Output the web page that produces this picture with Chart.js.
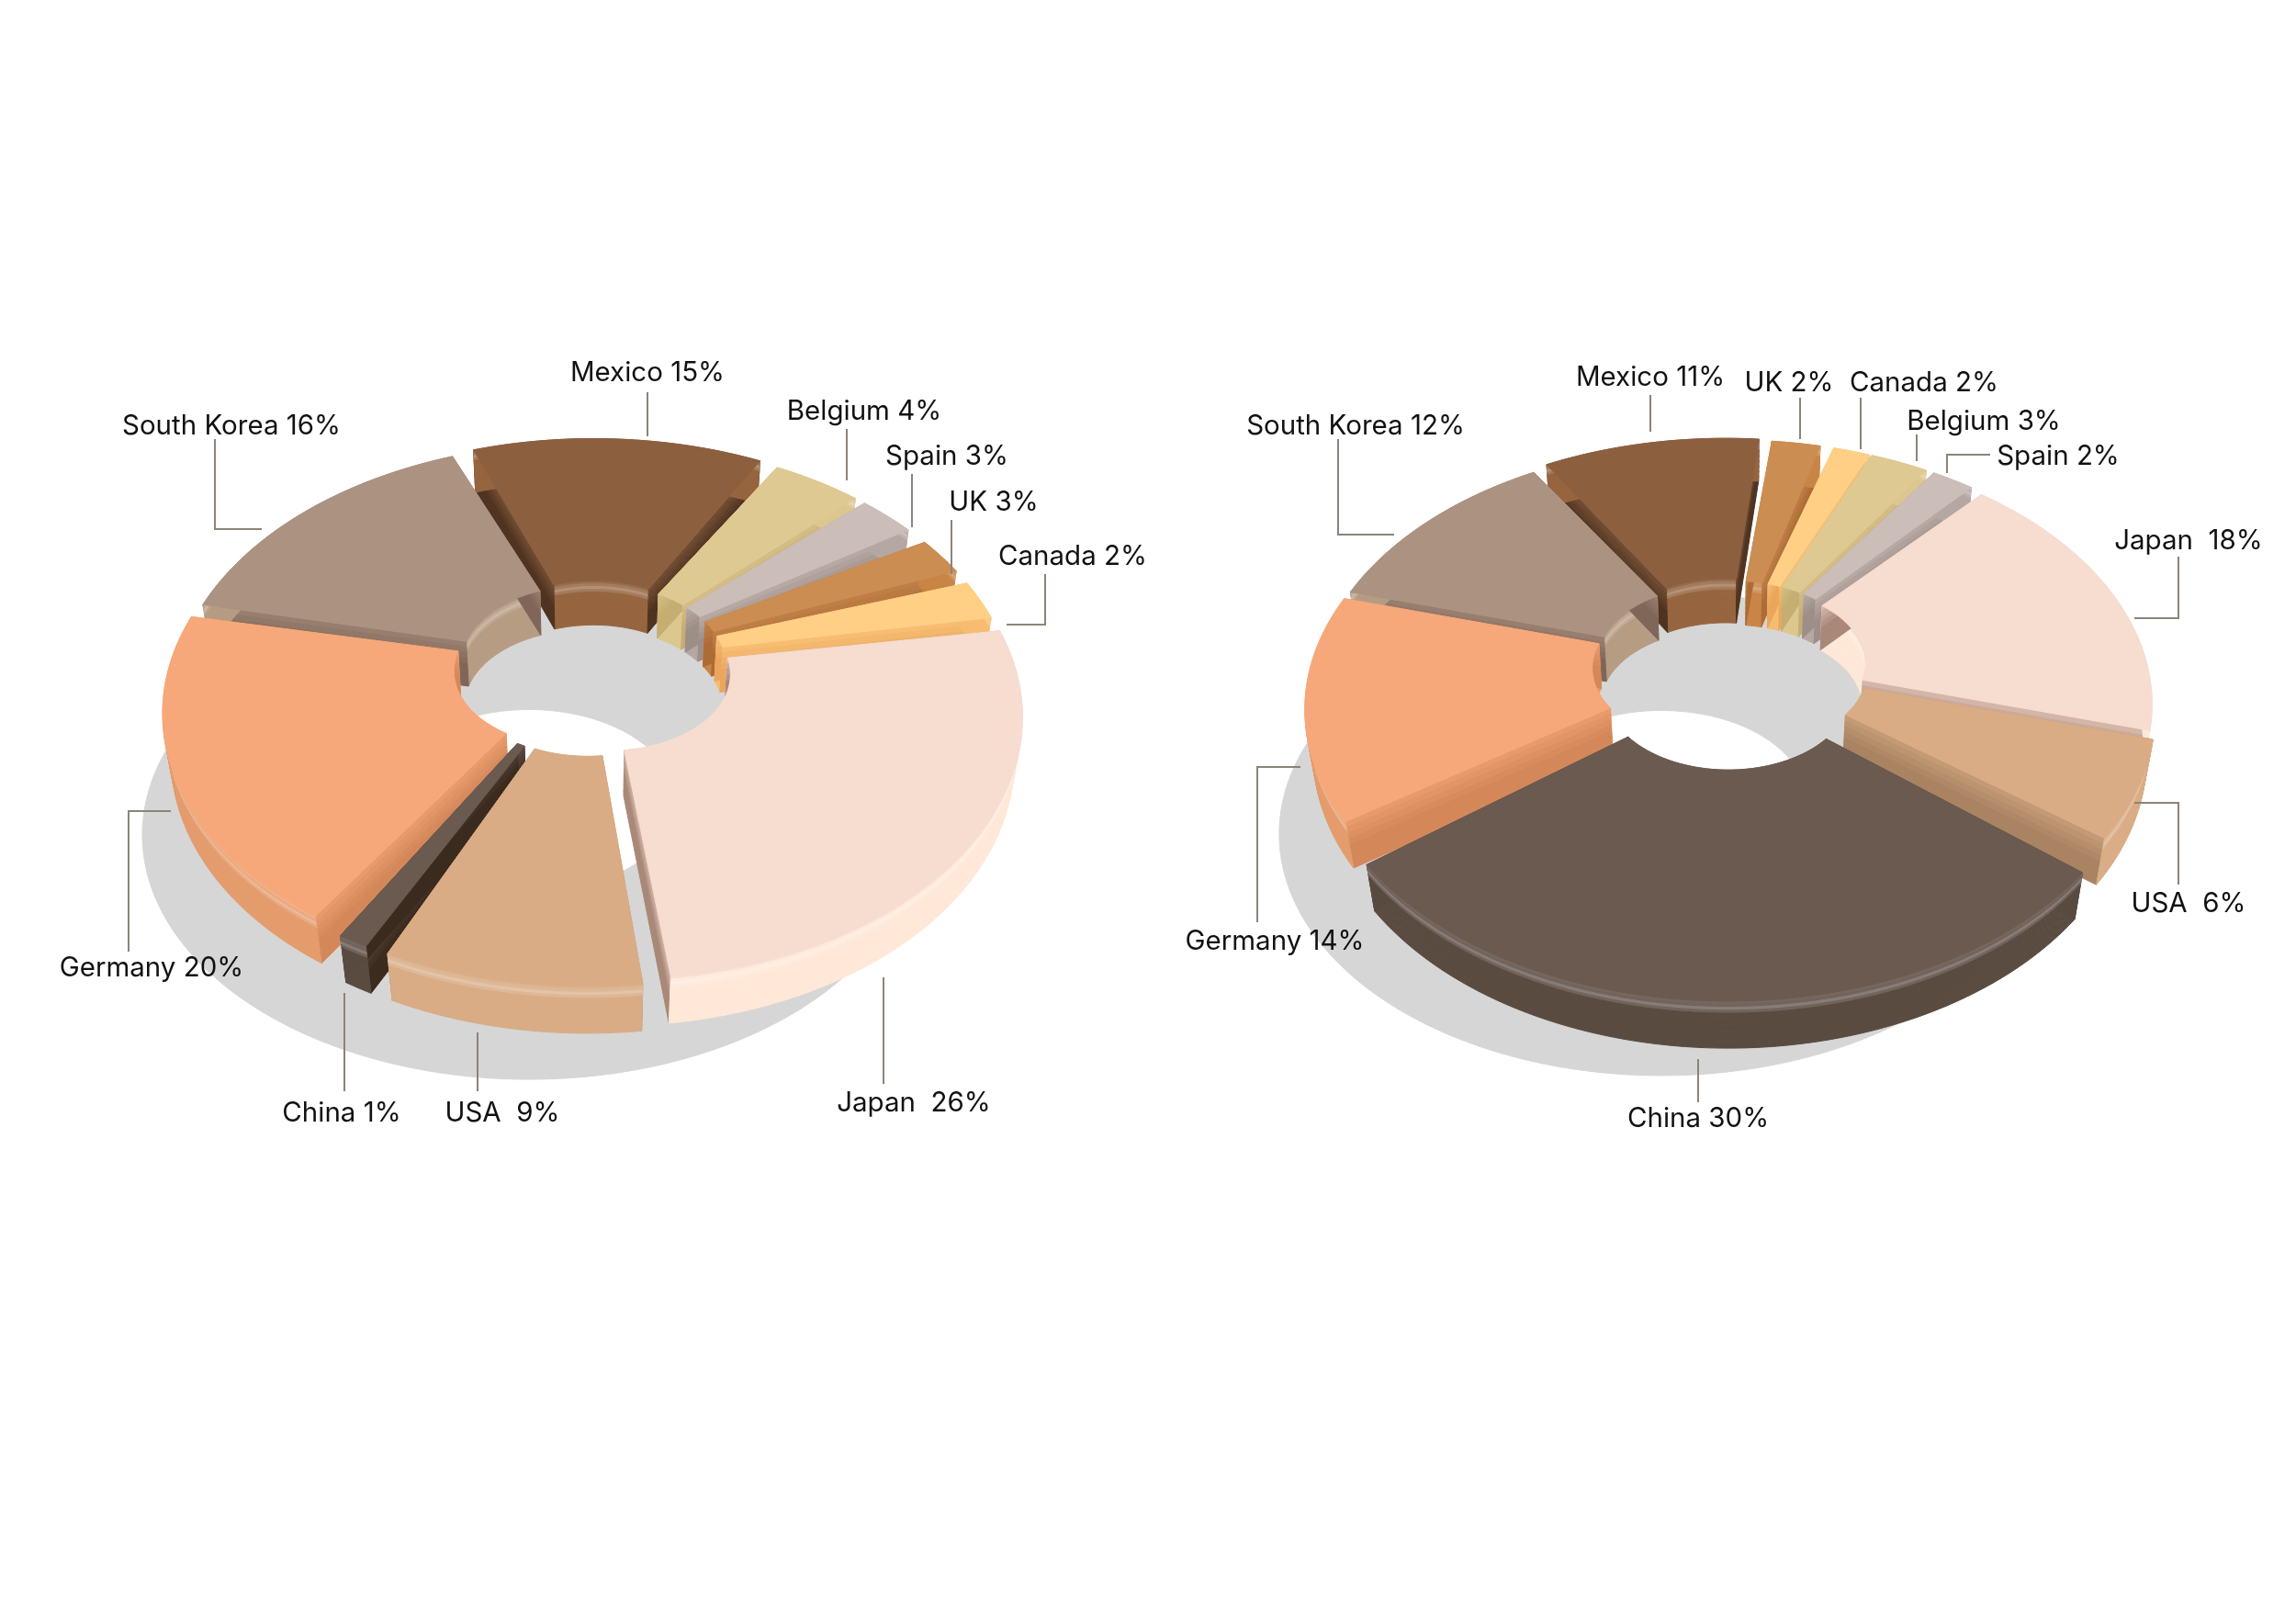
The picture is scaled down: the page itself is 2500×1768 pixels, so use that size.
<!DOCTYPE html>
<html>
<head>
<meta charset="utf-8">
<title>Two donut charts</title>
<script src="https://cdn.jsdelivr.net/npm/chart.js@4"></script>
<style>
    html, body { margin: 0; padding: 0; background: #fff; }
    canvas { position: absolute; left: 0; top: 0; }
</style>
</head>
<body>
<canvas id="left-chart" width="2500" height="1768"></canvas>
<canvas id="right-chart" width="2500" height="1768"></canvas>
<script>
const leftCategories = ['Japan', 'USA', 'China', 'Germany', 'South Korea', 'Mexico', 'Belgium', 'Spain', 'UK', 'Canada'];
const leftValues = [26, 9, 1, 20, 16, 15, 4, 3, 3, 2];
const leftLabels = ['Japan  26%', 'USA  9%', 'China 1%', 'Germany 20%', 'South Korea 16%', 'Mexico 15%', 'Belgium 4%', 'Spain 3%', 'UK 3%', 'Canada 2%'];

const rightCategories = ['Japan', 'USA', 'China', 'Germany', 'South Korea', 'Mexico', 'UK', 'Canada', 'Belgium', 'Spain'];
const rightValues = [18, 6, 30, 14, 12, 11, 2, 2, 3, 2];
const rightLabels = ['Japan  18%', 'USA  6%', 'China 30%', 'Germany 14%', 'South Korea 12%', 'Mexico 11%', 'UK 2%', 'Canada 2%', 'Belgium 3%', 'Spain 2%'];

// top face colour of every country
const colors = {
    'Japan': '#f7dcd0', 'USA': '#d9ac85', 'China': '#6b5a50', 'Germany': '#f6a87a', 'South Korea': '#ac9280',
    'Mexico': '#8c5f3f', 'Belgium': '#dfc992', 'Spain': '#cbbdb8', 'UK': '#cc8d52', 'Canada': '#ffcf85'
};
const wallColors = {
    'Japan': '#ffe8d8', 'USA': '#d9ac85', 'China': '#5a4b41', 'Germany': '#e59c6d', 'South Korea': '#b79c84',
    'Mexico': '#96653f', 'Belgium': '#dcc78e', 'Spain': '#b5a7a3', 'UK': '#c98546', 'Canada': '#f7bc70'
};
const cutColors = {
    'Japan': '#a98878', 'USA': '#a98362', 'China': '#3b2a1e', 'Germany': '#d4885a', 'South Korea': '#7f6658',
    'Mexico': '#4f3320', 'Belgium': '#c6ae72', 'Spain': '#9e8e88', 'UK': '#ad6c36', 'Canada': '#eba65c'
};

// how far each slice is pulled out of the ring, px
const leftExplode = [22, 22, 22, 18, 12, 18, 14, 14, 14, 14];
const rightExplode = [18, 20, 44, 18, 16, 24, 20, 20, 20, 20];

// gap at the start and end of each slice, degrees
const leftTrim = [[2, -0.5], [0, -2], [0, 0], [3, -1], [0, -3], [-1, -7], [-5, -4.7], [-3.2, -4.6], [-1, -3.5], [-0.5, 1]];
const rightTrim = [[1, 0], [0, 0], [2, -3], [0, 0], [0, -1], [0, -3], [-2, -1], [1, 0], [0, -1], [0, 0]];

// label centre and leader line for each slice, page px
const leftCallouts = [
    { x: 995, y: 1199, line: [[962, 1064], [962, 1180]] },
    { x: 547, y: 1210, line: [[520, 1124], [520, 1188]] },
    { x: 372, y: 1210, line: [[375, 1081], [375, 1188]] },
    { x: 165, y: 1052, line: [[140, 1036], [140, 883], [186, 883]] },
    { x: 252, y: 462, line: [[234, 478], [234, 576], [285, 576]] },
    { x: 705, y: 404, line: [[705, 427], [705, 475]] },
    { x: 941, y: 446, line: [[922, 467], [922, 523]] },
    { x: 1031, y: 495, line: [[993, 516], [993, 574]] },
    { x: 1082, y: 545, line: [[1036, 566], [1036, 625]] },
    { x: 1168, y: 604, line: [[1138, 625], [1138, 680], [1096, 680]] }
];
const rightCallouts = [
    { x: 2383, y: 587, line: [[2372, 606], [2372, 673], [2324, 673]] },
    { x: 2383, y: 982, line: [[2372, 963], [2372, 874], [2324, 874]] },
    { x: 1849, y: 1216, line: [[1849, 1153], [1849, 1200]] },
    { x: 1388, y: 1023, line: [[1369, 1004], [1369, 835], [1416, 835]] },
    { x: 1476, y: 462, line: [[1457, 478], [1457, 582], [1518, 582]] },
    { x: 1797, y: 409, line: [[1797, 430], [1797, 470]] },
    { x: 1948, y: 415, line: [[1960, 433], [1960, 478]] },
    { x: 2095, y: 415, line: [[2026, 433], [2026, 489]] },
    { x: 2160, y: 457, line: [[2087, 473], [2087, 502]] },
    { x: 2241, y: 495, line: [[2167, 495], [2120, 495], [2120, 515]] }
];

// mix two hex colours, t = 0 gives a, t = 1 gives b
function mix(a, b, t) {
    const pa = [1, 3, 5].map(i => parseInt(a.slice(i, i + 2), 16));
    const pb = [1, 3, 5].map(i => parseInt(b.slice(i, i + 2), 16));
    const c = pa.map((v, i) => Math.round(v + (pb[i] - v) * t));
    return `rgb(${c[0]},${c[1]},${c[2]})`;
}

// world point on the ring plane -> page px, z goes negative down the wall
function project(view, x, y, z) {
    const w = 1 - view.k * y - view.m * z;
    const s = 1 / w;
    return [view.cx + x * s, view.cy + view.q * y * s - z * s];
}

function fillPoly(ctx, pts, color) {
    ctx.beginPath();
    pts.forEach((p, i) => i ? ctx.lineTo(p[0], p[1]) : ctx.moveTo(p[0], p[1]));
    ctx.closePath();
    ctx.fillStyle = color;
    ctx.strokeStyle = color;
    ctx.lineWidth = 1;
    ctx.fill();
    ctx.stroke();
}

function ringPoint(p, r, a) {
    return [p.ox + r * Math.cos(a), p.oy + r * Math.sin(a)];
}

function arcSteps(p) {
    return Math.max(6, Math.ceil((p.endAngle - p.startAngle) * 40));
}

function facePoints(view, p, outer, inner) {
    const pts = [];
    const n = arcSteps(p);
    for (let i = 0; i <= n; i++) {
        const a = p.startAngle + (p.endAngle - p.startAngle) * i / n;
        const q = ringPoint(p, outer, a);
        pts.push(project(view, q[0], q[1], 0));
    }
    for (let i = n; i >= 0; i--) {
        const a = p.startAngle + (p.endAngle - p.startAngle) * i / n;
        const q = ringPoint(p, inner, a);
        pts.push(project(view, q[0], q[1], 0));
    }
    return pts;
}

// one curved wall, cut into bands down its height so it can carry the bevel light
function drawCurvedWall(ctx, view, p, r, base, top) {
    const h = view.depth;
    const n = arcSteps(p);
    const bands = 16;
    for (let b = 0; b < bands; b++) {
        const z0 = -h * b / bands;
        const z1 = -h * (b + 1) / bands;
        let color = mix(base, '#ffffff', Math.max(0, 1 - Math.abs(b - 2) / 2) * 0.28);
        if (b === 0) color = mix(top, '#ffffff', 0.08);
        const pts = [];
        for (let i = 0; i <= n; i++) {
            const a = p.startAngle + (p.endAngle - p.startAngle) * i / n;
            const q = ringPoint(p, r, a);
            pts.push(project(view, q[0], q[1], z0));
        }
        for (let i = n; i >= 0; i--) {
            const a = p.startAngle + (p.endAngle - p.startAngle) * i / n;
            const q = ringPoint(p, r, a);
            pts.push(project(view, q[0], q[1], z1));
        }
        fillPoly(ctx, pts, color);
    }
}

// flat end of a slice, fades from the top colour into its dark colour
function drawCutWall(ctx, view, p, angle, top, dark) {
    const a = ringPoint(p, p.innerRadius, angle);
    const b = ringPoint(p, p.outerRadius, angle);
    const bands = 8;
    for (let i = 0; i < bands; i++) {
        const z0 = -view.depth * i / bands;
        const z1 = -view.depth * (i + 1) / bands;
        fillPoly(ctx, [
            project(view, a[0], a[1], z0), project(view, b[0], b[1], z0),
            project(view, b[0], b[1], z1), project(view, a[0], a[1], z1)
        ], mix(top, dark, Math.min(1, 0.45 + i * 0.14)));
    }
}

const ringPlugin = {
    id: 'ring3d',
    beforeDatasetsDraw(chart, args, opts) {
        const ctx = chart.ctx;
        const view = opts.view;
        const arcs = chart.getDatasetMeta(0).data;
        const deg = Math.PI / 180;
        const parts = arcs.map((arc, i) => {
            const p = arc.getProps(['startAngle', 'endAngle', 'innerRadius', 'outerRadius'], true);
            const mid = (p.startAngle + p.endAngle) / 2;
            return {
                startAngle: p.startAngle, endAngle: p.endAngle,
                innerRadius: p.innerRadius, outerRadius: p.outerRadius,
                mid: mid, name: opts.categories[i],
                trim: opts.trim[i],
                ox: Math.cos(mid) * opts.explode[i],
                oy: Math.sin(mid) * opts.explode[i]
            };
        });

        // shadow on the ground, a bit smaller than the ring and off to the lower left
        const shadowView = Object.assign({}, view, { cx: view.cx + view.shadowX, cy: view.cy + view.shadowY });
        parts.forEach(p => {
            const s = Object.assign({}, p, { ox: 0, oy: 0 });
            fillPoly(ctx, facePoints(shadowView, s, p.outerRadius * view.shadowScale, p.innerRadius * 1.2), '#d6d6d6');
        });

        // back slices first
        parts.slice().sort((a, b) => Math.sin(a.mid) - Math.sin(b.mid)).forEach(p => {
            const top = colors[p.name];
            p.startAngle += p.trim[0] * deg;
            p.endAngle += p.trim[1] * deg;
            drawCurvedWall(ctx, view, p, p.innerRadius, wallColors[p.name], top);
            drawCutWall(ctx, view, p, p.startAngle, top, cutColors[p.name]);
            drawCutWall(ctx, view, p, p.endAngle, top, cutColors[p.name]);
            drawCurvedWall(ctx, view, p, p.outerRadius, wallColors[p.name], top);
            fillPoly(ctx, facePoints(view, p, p.outerRadius, p.innerRadius), top);
        });
        return false;
    },
    afterDraw(chart, args, opts) {
        const ctx = chart.ctx;
        ctx.save();
        ctx.strokeStyle = '#8c8479';
        ctx.lineWidth = 2;
        ctx.fillStyle = '#111111';
        ctx.font = '29.5px Inter';
        ctx.textAlign = 'center';
        ctx.textBaseline = 'middle';
        opts.callouts.forEach((c, i) => {
            ctx.beginPath();
            c.line.forEach((pt, j) => j ? ctx.lineTo(pt[0], pt[1]) : ctx.moveTo(pt[0], pt[1]));
            ctx.stroke();
            ctx.fillText(opts.labels[i], c.x, c.y + 2);
        });
        ctx.restore();
    }
};

function makeRing(id, categories, values, labels, callouts, explode, trim, rotation, radius, view) {
    return new Chart(document.getElementById(id), {
        type: 'doughnut',
        data: {
            labels: categories,
            datasets: [{
                data: values,
                backgroundColor: categories.map(c => colors[c]),
                borderWidth: 0
            }]
        },
        options: {
            responsive: false,
            animation: false,
            devicePixelRatio: 1,
            rotation: rotation,
            radius: radius,
            cutout: '30%',
            plugins: {
                legend: { display: false },
                tooltip: { enabled: false },
                ring3d: { categories, labels, callouts, explode, trim, view }
            }
        },
        plugins: [ringPlugin]
    });
}

const leftView = { cx: 644, cy: 721, q: 0.624, k: 0.000388, m: 0.0004, depth: 50, shadowX: -68, shadowY: 145, shadowScale: 0.94 };
const rightView = { cx: 1883, cy: 721, q: 0.624, k: 0.000388, m: 0.0004, depth: 50, shadowX: -74, shadowY: 145, shadowScale: 0.94 };

makeRing('left-chart', leftCategories, leftValues, leftLabels, leftCallouts, leftExplode, leftTrim, 79, 442, leftView);
makeRing('right-chart', rightCategories, rightValues, rightLabels, rightCallouts, rightExplode, rightTrim, 41, 437, rightView);
</script>
</body>
</html>
